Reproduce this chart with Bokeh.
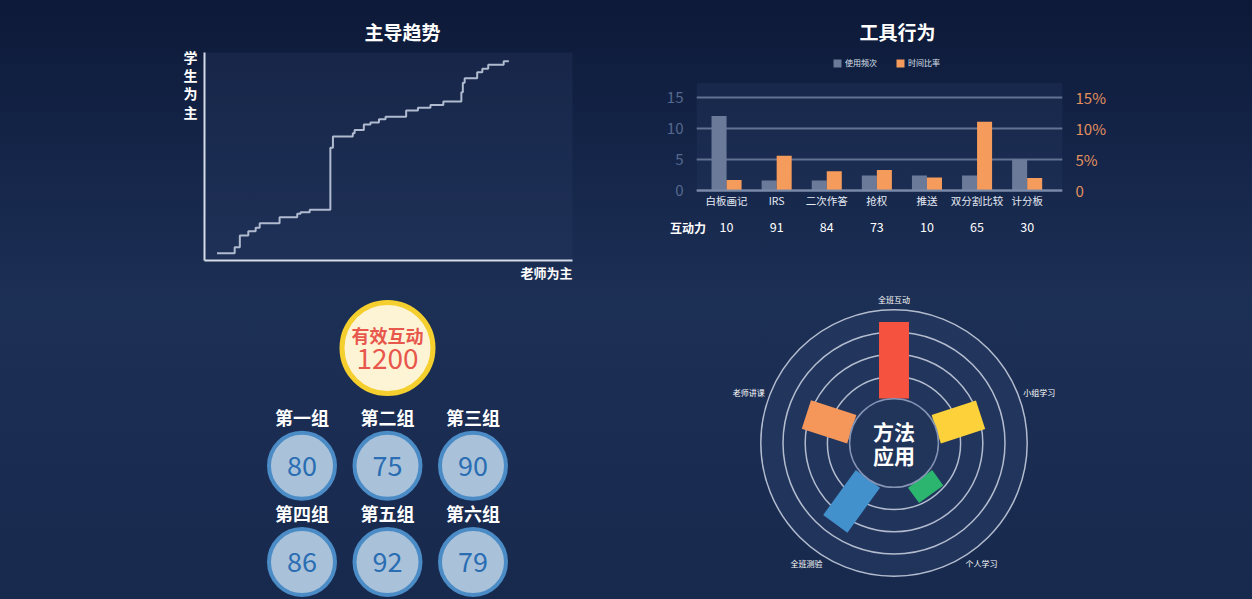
from bokeh.plotting import figure
from bokeh.layouts import row, column
from bokeh.models import (Range1d, LinearAxis, FixedTicker, Label, Legend, LegendItem,
                          ColumnDataSource, GlobalInlineStyleSheet, BoxAnnotation)
from bokeh.core.properties import value
from bokeh.embed import file_html
from bokeh.resources import INLINE
import math

FONT = "Noto Sans CJK SC"

# ---------------- data ----------------
# step chart: 主导趋势 (x: 老师为主 -> , y: 学生为主)
step_x = [3.4, 8.2, 9.6, 11.9, 13.9, 15.0, 20.4, 25.2, 26.1, 28.6, 34.2, 34.9, 40.3, 40.8, 43.3,
          45.1, 47.4, 49.2, 54.8, 58.0, 61.4, 64.9, 69.8, 70.2, 70.7, 74.1, 75.5, 77.1, 81.3, 82.7]
step_y = [3.5, 6.4, 12.0, 14.1, 15.7, 17.9, 20.8, 22.5, 23.2, 24.4, 54.2, 59.6, 61.2, 62.8, 65.4,
          66.3, 67.9, 69.1, 72.1, 73.4, 74.7, 76.4, 80.9, 85.4, 87.6, 90.5, 92.2, 94.1, 95.8, 95.8]

# bar chart: 工具行为
tools = ["白板画记", "IRS", "二次作答", "抢权", "推送", "双分割比较", "计分板"]
use_count = [12.0, 1.6, 1.6, 2.4, 2.4, 2.4, 5.0]
time_ratio = [1.7, 5.6, 3.1, 3.3, 2.1, 11.1, 2.0]
interaction = [10, 91, 84, 73, 10, 65, 30]
bar_ticks = [0, 5, 10, 15]
pct_labels = ["0", "5%", "10%", "15%"]

# groups
total_label = "有效互动"
total_value = 1200
groups = ["第一组", "第二组", "第三组", "第四组", "第五组", "第六组"]
scores = [80, 75, 90, 86, 92, 79]

# polar: 方法应用
methods = ["全班互动", "小组学习", "个人学习", "全班测验", "老师讲课"]
method_values = [3.45, 2.1, 0.85, 2.5, 2.15]
method_colors = ["#f5523f", "#fdd13a", "#2bb56f", "#4290cc", "#f5975b"]

TEXT = "#ffffff"


def base_fig(w, h, **kw):
    p = figure(width=w, height=h, output_backend="svg", toolbar_location=None, **kw)
    p.background_fill_alpha = 0
    p.border_fill_alpha = 0
    p.outline_line_color = None
    p.min_border = 0
    try:
        p.frame_align = False
    except Exception:
        pass
    return p


def lbl(p, x, y, text, size, align="center", baseline="middle", color=TEXT, bold=False, lh=1.2):
    p.add_layout(Label(x=x, y=y, x_units="screen", y_units="screen", text=text,
                       text_align=align, text_baseline=baseline, text_color=color,
                       text_font=FONT, text_font_size=size, text_line_height=lh,
                       text_font_style="bold" if bold else "normal"))


# ---------------- top-left: step chart ----------------
W1, H1 = 628, 293
sx1, sy1 = 3.68, 2.08   # px per data unit
p1 = base_fig(W1, H1, x_range=Range1d(-204 / sx1, (W1 - 204) / sx1),
              y_range=Range1d(-(H1 - 260) / sy1, 260 / sy1))
p1.grid.visible = False
p1.add_layout(BoxAnnotation(left=0, right=100, bottom=0, top=100, fill_color="#2c3d64",
                            fill_alpha=0.3, line_color=None, level="underlay"))
for ax in (p1.xaxis[0], p1.yaxis[0]):
    ax.fixed_location = 0
    ax.bounds = (0, 100)
    ax.ticker = FixedTicker(ticks=[])
    ax.major_tick_line_color = None
    ax.minor_tick_line_color = None
    ax.major_label_text_font_size = "0px"
    ax.axis_line_color = "#d4dbe8"
    ax.axis_line_width = 2
p1.step(step_x, step_y, mode="after", line_color="#b0bbd0", line_width=2)
lbl(p1, 402, H1 - 31, "主导趋势", "19px", bold=True)
lbl(p1, 190, H1 - 46, "学\n生\n为\n主", "14px", baseline="top", bold=True, lh=0.92)
lbl(p1, 572, H1 - 272, "老师为主", "13px", align="right", bold=True)

# ---------------- top-right: bar chart ----------------
W2, H2a, H2b = 624, 214, 79
bx_px = 50.1   # px per category
by_px = 6.2    # px per unit
xs = list(range(len(tools)))
p2 = base_fig(W2, H2a, x_range=Range1d(-0.6, -0.6 + 366 / bx_px),
              y_range=Range1d(-(H2a - 190) / by_px, 190 / by_px))
p2.min_border_left, p2.min_border_right = 696 - 628, W2 - (1062 - 628)
p2.extra_y_ranges = {"pct": Range1d(-(H2a - 190) / by_px, 190 / by_px)}
p2.add_layout(BoxAnnotation(bottom=0, top=15 + 14.7 / by_px, fill_color="#2c3d64",
                            fill_alpha=0.3, line_color=None, level="underlay"))
p2.xgrid.visible = False
p2.ygrid.ticker = FixedTicker(ticks=bar_ticks)
p2.ygrid.grid_line_color = "#7b89a8"
p2.ygrid.grid_line_width = 2
src = ColumnDataSource(dict(x=xs, xl=[v - 0.15 for v in xs], xr=[v + 0.15 for v in xs],
                            use=use_count, pct=time_ratio))
r_use = p2.vbar(x="xl", top="use", width=0.3, source=src, fill_color="#6c7a9a", line_color=None)
r_pct = p2.vbar(x="xr", top="pct", width=0.3, source=src, fill_color="#f59b5b", line_color=None,
                y_range_name="pct")
ya = p2.yaxis[0]
ya.ticker = FixedTicker(ticks=bar_ticks)
ya.axis_line_color = None
ya.major_tick_line_color = None
ya.minor_tick_line_color = None
ya.major_tick_out = 0
ya.major_tick_in = 0
ya.major_label_standoff = 13
ya.major_label_text_color = "#56698f"
ya.major_label_text_font_size = "15px"
ya.major_label_text_font = FONT
ra = LinearAxis(y_range_name="pct", ticker=FixedTicker(ticks=bar_ticks),
                major_label_overrides={t: l for t, l in zip(bar_ticks, pct_labels)})
ra.axis_line_color = None
ra.major_tick_line_color = None
ra.minor_tick_line_color = None
ra.major_tick_out = 0
ra.major_tick_in = 0
ra.major_label_standoff = 13
ra.major_label_text_color = "#e3915e"
ra.major_label_text_font_size = "15px"
ra.major_label_text_font = FONT
p2.add_layout(ra, "right")
xa = p2.xaxis[0]
xa.fixed_location = 0
xa.ticker = FixedTicker(ticks=xs)
xa.major_label_overrides = {i: t for i, t in enumerate(tools)}
xa.axis_line_color = "#7b89a8"
xa.axis_line_width = 2
xa.major_tick_line_color = None
xa.minor_tick_line_color = None
xa.major_tick_out = 0
xa.major_tick_in = 0
xa.major_label_standoff = 2
xa.major_label_text_color = "#e6ebf5"
xa.major_label_text_font_size = "10.5px"
xa.major_label_text_font = FONT
lbl(p2, 897 - 696, H2a - 31, "工具行为", "19px", bold=True)
legend = Legend(items=[LegendItem(label="使用频次", renderers=[r_use]),
                       LegendItem(label="时间比率", renderers=[r_pct])],
                location=(832 - 696, H2a - 58 - 10), orientation="horizontal", padding=0, margin=0,
                glyph_width=10, glyph_height=10, label_standoff=3, spacing=18,
                label_text_font_size="8px", label_text_color="#dde3ee", label_text_font=FONT,
                background_fill_alpha=0, border_line_alpha=0, label_height=10)
p2.add_layout(legend)

# strip with 互动力 values, same category scale
x0 = -0.6 - (696 - 628) / bx_px
p2b = base_fig(W2, H2b, x_range=Range1d(x0, x0 + W2 / bx_px), y_range=Range1d(-(H2b - 12.7), 12.7))
p2b.axis.visible = False
p2b.grid.visible = False
p2b.text(x=xs, y=[0] * len(xs), text=[str(v) for v in interaction], text_align="center",
         text_baseline="middle", text_color=TEXT, text_font=value(FONT), text_font_size="12.5px")
lbl(p2b, 687.5 - 628, H2b - 12.7, "互动力", "12px", bold=True)

# ---------------- bottom-left: groups ----------------
W3, H3 = 628, 306
ux, uy = 85.5, 96.3
p3 = base_fig(W3, H3, x_range=Range1d(1 - 387 / ux, 1 - 387 / ux + W3 / ux),
              y_range=Range1d(-(H3 - 172.3) / uy, 172.3 / uy))
p3.axis.visible = False
p3.grid.visible = False
gx = [i % 3 for i in range(len(groups))]
gy = [-(i // 3) for i in range(len(groups))]
gsrc = ColumnDataSource(dict(x=gx, y=gy, ly=[v + 0.505 for v in gy], name=groups,
                             score=[str(s) for s in scores]))
ty = 117.8 / uy
p3.scatter(x=[1], y=[ty], size=91, marker="circle", fill_color="#fdf4d6",
           line_color="#f4cf2e", line_width=5)
p3.text(x=[1], y=[ty + 0.13], text=[total_label], text_align="center", text_baseline="middle",
        text_color="#e8574c", text_font=value(FONT), text_font_size="18px", text_font_style="bold")
p3.text(x=[1], y=[ty - 0.11], text=[str(total_value)], text_align="center", text_baseline="middle",
        text_color="#e8574c", text_font=value(FONT), text_font_size="28px")
p3.scatter(x="x", y="y", source=gsrc, size=66, marker="circle", fill_color="#a9c2da",
           line_color="#4b8bc6", line_width=4)
p3.text(x="x", y="y", text="score", source=gsrc, text_align="center", text_baseline="middle",
        text_color="#2a6db2", text_font=value(FONT), text_font_size="27px")
p3.text(x="x", y="ly", text="name", source=gsrc, text_align="center", text_baseline="middle",
        text_color=TEXT, text_font=value(FONT), text_font_size="18px", text_font_style="bold")

# ---------------- bottom-right: polar bars ----------------
W4, H4 = 624, 306
U = 22.2
cxp, cyp = 893.5 - 628, 442.5 - 293
p4 = base_fig(W4, H4, x_range=Range1d(-cxp / U, (W4 - cxp) / U),
              y_range=Range1d(-(H4 - cyp) / U, cyp / U))
p4.axis.visible = False
p4.grid.visible = False
base_r = 2.0
ring_r = [3, 4, 5, 6]
p4.circle(x=[0], y=[0], radius=6, fill_color="#2c416a", fill_alpha=0.45, line_color=None)
p4.circle(x=[0] * 4, y=[0] * 4, radius=ring_r, fill_color=None, line_color="#c3cbdb",
          line_width=1.5, line_alpha=0.9)
angles = [math.radians(90 - 72 * i) for i in range(len(methods))]
bx = [math.cos(a) * (base_r + v / 2) for a, v in zip(angles, method_values)]
by = [math.sin(a) * (base_r + v / 2) for a, v in zip(angles, method_values)]
p4.rect(x=bx, y=by, width=method_values, height=1.35, angle=angles,
        fill_color=method_colors, line_color=None)
p4.circle(x=[0], y=[0], radius=base_r, fill_color="#213459", line_color="#8494b5", line_width=1.5)
lr = [6.45 + 0.45 * abs(math.cos(a)) for a in angles]
ly = [math.sin(a) * r + (0.15 if abs(math.cos(a)) > 0.9 else 0) for a, r in zip(angles, lr)]
p4.text(x=[math.cos(a) * r for a, r in zip(angles, lr)], y=ly,
        text=methods, text_align="center", text_baseline="middle", text_color=TEXT,
        text_font=value(FONT), text_font_size="8px")
p4.text(x=[0], y=[0], text=["方法\n应用"], text_align="center", text_baseline="middle",
        text_color=TEXT, text_font=value(FONT), text_font_size="21px",
        text_font_style="bold", text_line_height=0.83)

bg = "linear-gradient(180deg, #0d1938 0%, #15264a 28%, #1c2f54 50%, #1a2c51 75%, #172a4e 100%)"
page_css = GlobalInlineStyleSheet(css="html, body { background: #172a4e; margin: 0; }")
lay = column(row(p1, column(p2, p2b)), row(p3, p4), styles={"background": bg},
             stylesheets=[page_css])

open("out.html", "w").write(file_html(lay, INLINE))
